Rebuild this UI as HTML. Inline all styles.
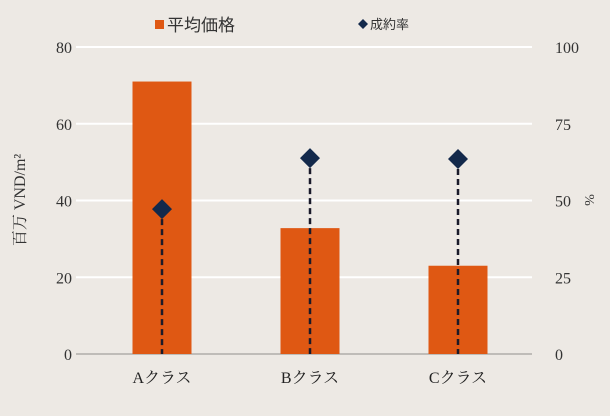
<!DOCTYPE html>
<html><head><meta charset="utf-8"><style>
body{margin:0;background:#ede9e4;}
svg{display:block;font-family:"Liberation Serif","Noto Serif CJK SC",serif;}
.lg{font-family:"Liberation Sans","Noto Sans CJK JP",sans-serif;}
</style></head><body>
<svg id="c" width="610" height="416"></svg>
<script>
const categories=["Aクラス","Bクラス","Cクラス"];
const priceValues=[71,32.8,23];
const rateValues=[47.2,63.8,63.5];
const leftTicks=[0,20,40,60,80];
const rightTicks=[0,25,50,75,100];
const NS="http://www.w3.org/2000/svg";
const svg=document.getElementById("c");
function mk(t,a,p){const e=document.createElementNS(NS,t);for(const k in a)e.setAttribute(k,a[k]);(p||svg).appendChild(e);return e;}
const X0=88,X1=532,Y0=354,Y1=47;
const bw=(X1-X0)/categories.length;
const xc=i=>X0+bw*(i+0.5);
const yL=v=>Y0-(v/80)*(Y0-Y1);
const yR=v=>Y0-(v/100)*(Y0-Y1);
leftTicks.forEach((t,i)=>{
 const y=yL(t);
 const g=mk("line",{x1:76,x2:532,y1:y,y2:y,stroke:t===0?"#bfbcb8":"#ffffff","stroke-width":2});
 
 
 const l=mk("text",{x:72,y:y+6,"text-anchor":"end","font-size":16,fill:"#333"});l.textContent=t;
 
 
});
rightTicks.forEach(t=>{
 const l=mk("text",{x:555,y:yR(t)+6,"font-size":16,fill:"#333"});l.textContent=t;
 
 
});
categories.forEach((c,i)=>{
 const cx=xc(i);
 const b=mk("rect",{x:cx-29.5,y:yL(priceValues[i]),width:59,height:Y0-yL(priceValues[i]),fill:"#df5813"});
 
 
 const d=mk("line",{x1:cx,x2:cx,y1:yR(rateValues[i]),y2:Y0,stroke:"#1a1a2a","stroke-width":2.5,"stroke-dasharray":"6,4"});
 
 
 const y=yR(rateValues[i]);
 const p=mk("polygon",{points:`${cx},${y-10} ${cx+10},${y} ${cx},${y+10} ${cx-10},${y}`,fill:"#13294b"});
 
 
 const t=mk("text",{x:cx,y:383,"text-anchor":"middle","font-size":16,fill:"#222"});t.textContent=c;
 
 
});
</script>
<svg width="0" height="0"></svg>
<div style="position:absolute;left:0;top:0;width:610px;height:416px;pointer-events:none">
<svg width="610" height="416" style="font-family:'Liberation Serif','Noto Serif CJK JP',serif">
<g>
<rect x="155" y="20" width="9" height="9" fill="#df5813"/>
<text x="167" y="31" font-size="17" fill="#333" style="font-family:'Liberation Sans','Noto Sans CJK JP',sans-serif">平均価格</text>
<polygon points="363,19 368,24 363,29 358,24" fill="#13294b"/>
<text x="370" y="29" font-size="13" fill="#333" style="font-family:'Liberation Sans','Noto Sans CJK JP',sans-serif">成約率</text>
</g>
<text transform="translate(25,200) rotate(-90)" text-anchor="middle" font-size="16" fill="#333">百万 VND/m²</text>
<text transform="translate(585,200) rotate(90)" text-anchor="middle" font-size="14" fill="#333">%</text>
</svg></div>
</body></html>
